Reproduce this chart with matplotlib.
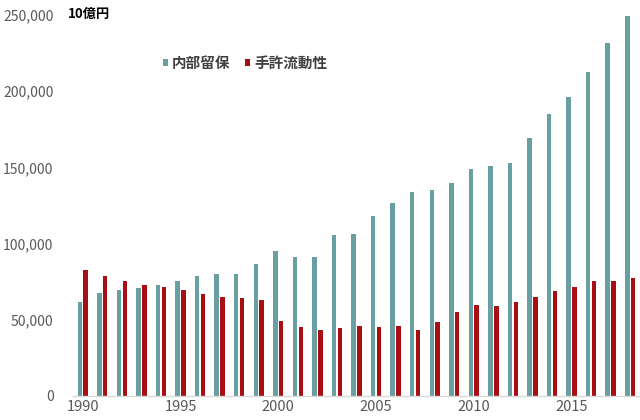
import matplotlib
matplotlib.use("Agg")
import matplotlib.pyplot as plt
import numpy as np

plt.rcParams['font.family'] = ['Noto Sans CJK JP', 'DejaVu Sans']

years = list(range(1990, 2019))
retained = [61270, 67170, 69540, 70650, 72420, 75240, 78720, 80030, 80030, 86400,
            94730, 91180, 91180, 105600, 106500, 117700, 126600, 133600, 135400, 139700,
            148700, 151100, 152800, 169200, 185000, 196400, 212500, 231600, 249700]
liquidity = [82260, 78300, 75240, 72420, 71100, 69540, 66700, 64940, 64090, 62580,
             49200, 44870, 42900, 44200, 45500, 44870, 45500, 43100, 48350, 54700,
             59700, 59040, 61270, 64940, 68900, 71100, 75240, 75240, 77000]
series_names = ['内部留保', '手許流動性']
xtick_years = [1990, 1995, 2000, 2005, 2010, 2015]
yticks = [0, 50000, 100000, 150000, 200000, 250000]

teal = '#6a9fa1'
red = '#a80f14'

fig = plt.figure(figsize=(6.4, 4.2), dpi=100)
ax = fig.add_axes([0.114, 0.058, 0.886, 0.906])

x = np.arange(len(years))
w = 0.23
ax.bar(x - 0.15, retained, width=w, color=teal, label=series_names[0])
ax.bar(x + 0.15, liquidity, width=w, color=red, label=series_names[1])

ax.set_xlim(-0.5, len(years) - 0.5)
ax.set_ylim(0, 250000)
ax.set_yticks(yticks)
ax.set_yticklabels([f'{v:,}' for v in yticks], color='#595959', fontsize=10)
ax.set_xticks([years.index(y) for y in xtick_years])
ax.set_xticklabels([str(y) for y in xtick_years], color='#595959', fontsize=10.5)
ax.tick_params(axis='both', length=0)
ax.tick_params(axis='y', pad=14)
ax.tick_params(axis='x', pad=3)
for s in ['top', 'right', 'left']:
    ax.spines[s].set_visible(False)
ax.spines['bottom'].set_color('#d9d9d9')
ax.spines['bottom'].set_linewidth(1.0)

fig.text(68 / 640, 1 - 14 / 420, '10億円', fontsize=9.5, fontweight='bold',
         color='black', va='center', ha='left')

leg = ax.legend(loc='upper left', bbox_to_anchor=(0.135, 0.93), ncol=2, frameon=False,
                handlelength=0.35, handleheight=0.35, handletextpad=0.3,
                columnspacing=1.0, prop={'size': 10.5, 'weight': 'bold'})
for t in leg.get_texts():
    t.set_color('#404040')

fig.savefig('out.png', dpi=100)
